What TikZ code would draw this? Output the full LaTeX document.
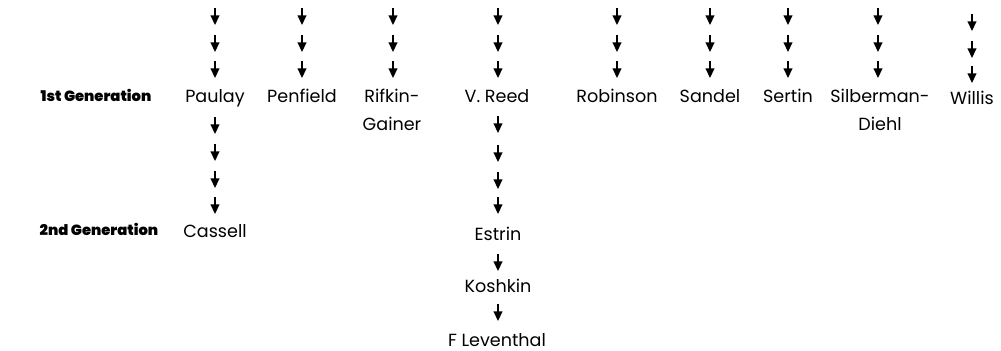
\documentclass[tikz,border=0pt]{standalone}
\usepackage{fontspec}
\setmainfont{Poppins}
\newfontfamily\heavyfont{Poppins Black}
\usetikzlibrary{arrows.meta,positioning}
\tikzstyle{person}=[inner sep=0pt, anchor=base, align=center, font=\fontsize{10}{16}\selectfont]
\tikzstyle{gen}=[inner sep=0pt, anchor=base, font=\fontsize{8.4}{12}\heavyfont]
\tikzstyle{down}=[line width=0.9pt, -{Triangle[length=5.5pt,width=5pt]}]
% a column of short arrows: #1 prefix for the coordinate names, #2 x, #3 the top of each arrow
\newcommand{\drawdrops}[3]
{
  \foreach \t [count=\i] in {#3}{
    \coordinate (#1-\i a) at (#2,\t);
    \coordinate (#1-\i b) at (#2,\t+17);
    \draw[down] (#1-\i a) -- (#1-\i b);
  }
}

\begin{document}
\begin{tikzpicture}[x=0.02cm, y=-0.02cm]
	\useasboundingbox (0,0) rectangle (1001,351);

	\node[gen](first) at (96,102){1st Generation};
	\node[gen](second) at (99,236){2nd Generation};

	% first generation (two-line names sit on their second line)
	\node[person](paulay) at (215,103){Paulay};
	\node[person](penfield) at (302,103){Penfield};
	\node[person](rifkin) at (392,131){Rifkin-\\Gainer};
	\node[person](reed) at (497,103){V. Reed};
	\node[person](robinson) at (617,103){Robinson};
	\node[person](sandel) at (710,103){Sandel};
	\node[person](sertin) at (788,103){Sertin};
	\node[person](silberman) at (880,131){Silberman-\\Diehl};
	\node[person](willis) at (972,105){Willis};

	% later generations
	\node[person](cassell) at (215,238){Cassell};
	\node[person](estrin) at (498,241){Estrin};
	\node[person](koshkin) at (498,293){Koshkin};
	\node[person](leventhal) at (497,346){F Leventhal};

	\drawdrops{paulay-up}{215}{8,35,61}
	\drawdrops{penfield-up}{302}{8,35,61}
	\drawdrops{rifkin-up}{393}{8,35,61}
	\drawdrops{reed-up}{498}{8,35,61}
	\drawdrops{robinson-up}{617}{8,35,61}
	\drawdrops{sandel-up}{710}{8,35,61}
	\drawdrops{sertin-up}{788}{8,35,61}
	\drawdrops{silberman-up}{878}{8,35,61}
	\drawdrops{willis-up}{972}{14,41,66}

	\drawdrops{paulay-down}{215}{117,144,171,197}
	\drawdrops{reed-down}{498}{116,145,172,197}
	\drawdrops{estrin-down}{498}{254}
	\drawdrops{koshkin-down}{498}{304}

\end{tikzpicture}
\end{document}
